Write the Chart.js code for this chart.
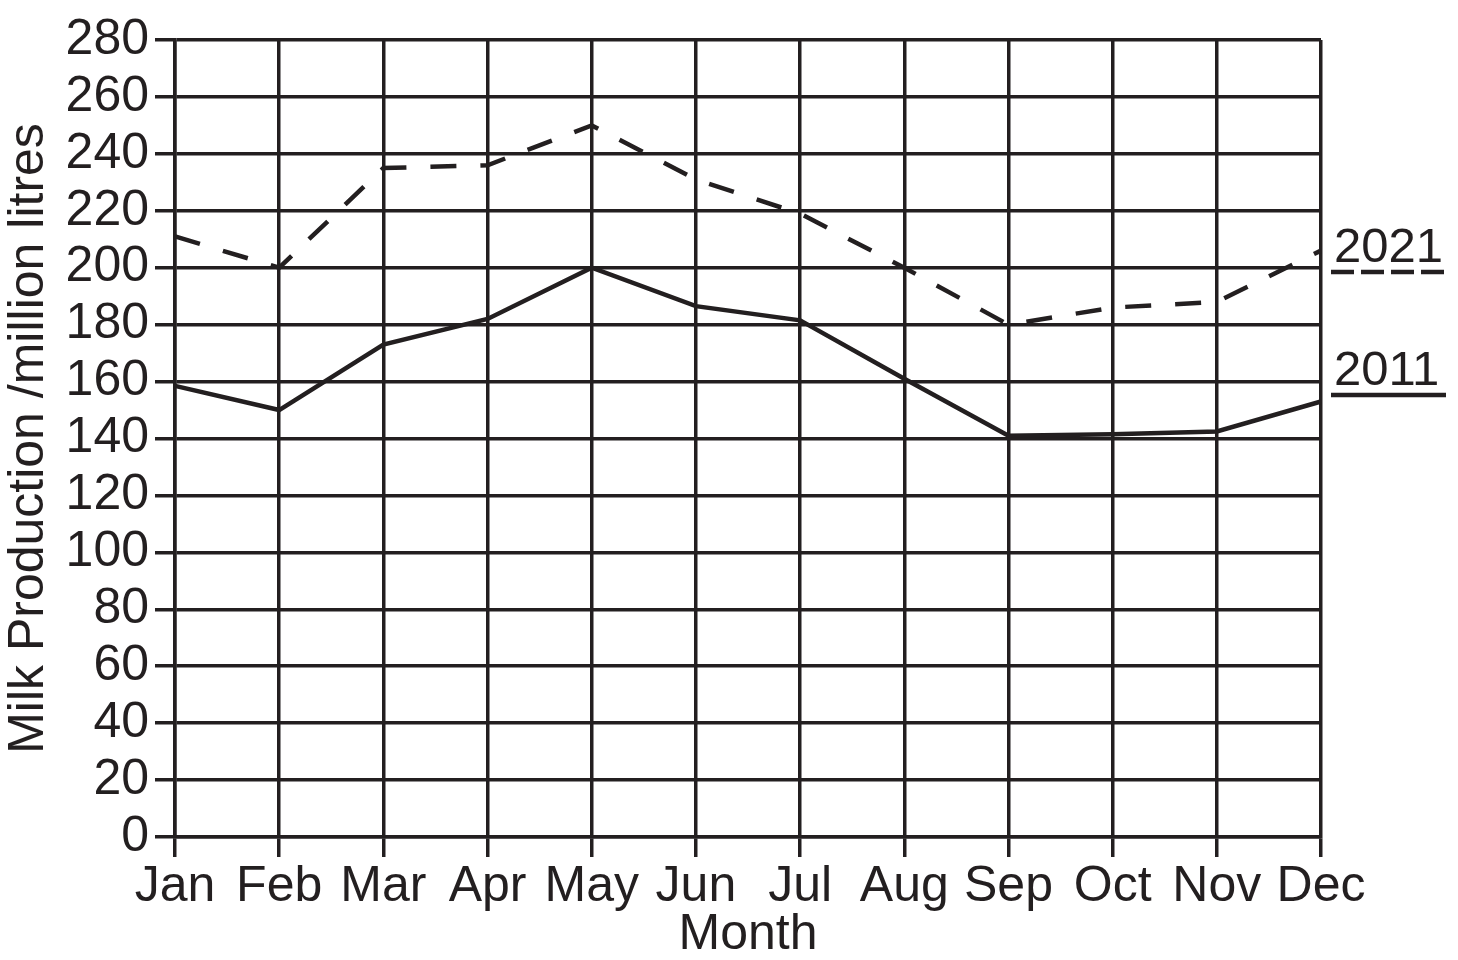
<!DOCTYPE html>
<html lang="en">
<head>
    <meta charset="UTF-8">
    <title>Milk Production</title>
    <style>
        body { margin: 0; background: #fff; }
        #wrap { width: 1458px; height: 960px; }
    </style>
</head>
<body>
    <div id="wrap"><canvas id="milkChart" width="1458" height="960"></canvas></div>

    <script src="https://cdn.jsdelivr.net/npm/chart.js"></script>
    <script>
        const months = ['Jan', 'Feb', 'Mar', 'Apr', 'May', 'Jun', 'Jul', 'Aug', 'Sep', 'Oct', 'Nov', 'Dec'];
        const prod2021 = [211, 200, 235, 236, 250, 231, 219, 200, 180, 186, 188, 206];
        const prod2011 = [158.5, 150, 173, 182, 200, 186.5, 181.5, 161, 141, 141.5, 142.5, 153];
        const yTicks = [0, 20, 40, 60, 80, 100, 120, 140, 160, 180, 200, 220, 240, 260, 280];

        const ink = '#231f20';
        const fontFam = '"Liberation Sans", Arial, sans-serif';

        // series labels on the right, underlined with the line style
        const seriesLabels = {
            id: 'seriesLabels',
            afterDraw(chart) {
                const ctx = chart.ctx;
                const x0 = chart.chartArea.right + 10;
                const x1 = x0 + 115;
                const items = [
                    { text: '2021', y: 262, dash: [23, 7] },
                    { text: '2011', y: 385, dash: [] }
                ];
                ctx.save();
                ctx.fillStyle = ink;
                ctx.strokeStyle = ink;
                ctx.font = '49px ' + fontFam;
                ctx.textAlign = 'left';
                ctx.textBaseline = 'alphabetic';
                items.forEach(it => {
                    ctx.fillText(it.text, x0 + 3, it.y);
                    ctx.lineWidth = 4.5;
                    ctx.setLineDash(it.dash);
                    ctx.beginPath();
                    ctx.moveTo(x0, it.y + 10);
                    ctx.lineTo(x1, it.y + 10);
                    ctx.stroke();
                });
                ctx.restore();
            }
        };

        new Chart(document.getElementById('milkChart'), {
            type: 'line',
            data: {
                labels: months,
                datasets: [
                    {
                        label: '2021',
                        data: prod2021,
                        borderColor: ink,
                        borderWidth: 4.5,
                        borderDash: [26, 24],
                        pointRadius: 0,
                        tension: 0,
                        fill: false
                    },
                    {
                        label: '2011',
                        data: prod2011,
                        borderColor: ink,
                        borderWidth: 4.5,
                        pointRadius: 0,
                        tension: 0,
                        fill: false
                    }
                ]
            },
            options: {
                responsive: false,
                devicePixelRatio: 1,
                animation: false,
                layout: { padding: { top: 40, right: 137, left: 0, bottom: 0 } },
                plugins: {
                    legend: { display: false },
                    tooltip: { enabled: false }
                },
                scales: {
                    x: {
                        offset: false,
                        afterFit: (s) => { s.height = 123; },
                        grid: { color: ink, lineWidth: 3.5, tickLength: 20, tickColor: ink, tickWidth: 3.5 },
                        border: { color: ink, width: 3.5 },
                        ticks: { color: ink, font: { family: fontFam, size: 50 }, padding: 0, maxRotation: 0, autoSkip: false },
                        title: {
                            display: true,
                            text: 'Month',
                            color: ink,
                            font: { family: fontFam, size: 50, lineHeight: 1 },
                            padding: 0
                        }
                    },
                    y: {
                        min: 0,
                        max: 280,
                        afterFit: (s) => { s.width = 175; },
                        afterBuildTicks: (s) => { s.ticks = yTicks.map(v => ({ value: v })); },
                        grid: { color: ink, lineWidth: 3.5, tickLength: 20, tickColor: ink, tickWidth: 3.5 },
                        border: { color: ink, width: 3.5 },
                        ticks: { color: ink, font: { family: fontFam, size: 50 }, padding: 6, autoSkip: false },
                        title: {
                            display: true,
                            text: 'Milk Production /million litres',
                            color: ink,
                            font: { family: fontFam, size: 50, lineHeight: 1 },
                            padding: { top: 4, bottom: 0 }
                        }
                    }
                }
            },
            plugins: [seriesLabels]
        });
    </script>
</body>
</html>
